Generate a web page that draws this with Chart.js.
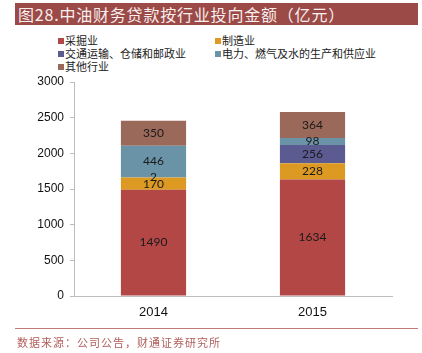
<!DOCTYPE html>
<html lang="zh">
<head>
  <meta charset="UTF-8">
  <title>中油财务贷款按行业投向金额</title>
  <script src="https://cdn.jsdelivr.net/npm/chart.js"></script>
  <style>
    body { margin: 0; background: #fff; width: 422px; height: 353px; position: relative; overflow: hidden; font-family: "Noto Sans CJK SC", sans-serif; }
    #banner { position: absolute; left: 15px; top: 3px; width: 403px; height: 22px; background: #9b4a47; color: #f7eeee; font-size: 16px; line-height: 22px; padding-left: 3px; box-sizing: border-box; letter-spacing: 0.8px; }
    #legend { position: absolute; left: 58px; top: 34px; width: 360px; font-size: 11px; color: #222; }
    #legend .item { position: absolute; white-space: nowrap; line-height: 13px; }
    #legend .sw { display: inline-block; width: 6px; height: 6px; margin-right: 1px; vertical-align: 1px; }
    #rule { position: absolute; left: 15px; top: 328px; width: 403px; height: 1px; background: #c07a78; }
    #source { position: absolute; left: 17px; top: 334px; font-size: 11px; color: #b2605c; letter-spacing: 1px; }
    canvas { position: absolute; left: 0; top: 0; }
  </style>
</head>
<body>
  <div id="banner">图28.中油财务贷款按行业投向金额（亿元）</div>
  <div id="legend"></div>
  <canvas id="chart" width="422" height="353"></canvas>
  <div id="rule"></div>
  <div id="source">数据来源：公司公告，财通证券研究所</div>

  <script>
    // data
    const years = ['2014', '2015'];
    const seriesNames = ['采掘业', '制造业', '交通运输、仓储和邮政业', '电力、燃气及水的生产和供应业', '其他行业'];
    const mining = [1490, 1634];
    const manufacturing = [170, 228];
    const transport = [2, 256];
    const utilities = [446, 98];
    const others = [350, 364];
    const yTicks = [0, 500, 1000, 1500, 2000, 2500, 3000];

    const colors = ['#b34745', '#dc9a22', '#5b5b92', '#6a93a7', '#9b695a'];
    const values = [mining, manufacturing, transport, utilities, others];

    // html legend, two columns like the original
    const legendBox = document.getElementById('legend');
    seriesNames.forEach((name, i) => {
      const el = document.createElement('div');
      el.className = 'item';
      el.style.left = (i % 2 === 0 ? 0 : 157) + 'px';
      el.style.top = (Math.floor(i / 2) * 13) + 'px';
      el.innerHTML = '<span class="sw" style="background:' + colors[i] + '"></span>' + name;
      legendBox.appendChild(el);
    });

    // writes each segment's value in the middle of it
    const valueLabels = {
      id: 'valueLabels',
      afterDatasetsDraw(chart) {
        const ctx = chart.ctx;
        ctx.save();
        ctx.font = '12px Lato, "Liberation Sans", sans-serif';
        ctx.fillStyle = '#1a1a1a';
        ctx.textAlign = 'center';
        ctx.textBaseline = 'middle';
        chart.data.datasets.forEach((ds, i) => {
          chart.getDatasetMeta(i).data.forEach((bar, j) => {
            const mid = (bar.y + bar.base) / 2;
            ctx.fillText(ds.data[j], bar.x, mid);
          });
        });
        ctx.restore();
      }
    };

    new Chart(document.getElementById('chart'), {
      type: 'bar',
      data: {
        labels: years,
        datasets: seriesNames.map((name, i) => ({
          label: name,
          data: values[i],
          backgroundColor: colors[i],
          borderWidth: 0,
          barPercentage: 0.41,
          categoryPercentage: 1
        }))
      },
      options: {
        responsive: false,
        animation: false,
        layout: { padding: { left: 14, right: 30, top: 82, bottom: 0 } },
        plugins: {
          legend: { display: false },
          tooltip: { enabled: false }
        },
        scales: {
          x: {
            stacked: true,
            grid: { display: false, drawTicks: false },
            border: { color: '#bdbdbd' },
            ticks: { color: '#111', font: { family: '"Liberation Sans", Arial, sans-serif', size: 13 }, padding: 9 },
            afterFit(scale) { scale.height = 57; }
          },
          y: {
            stacked: true,
            min: 0,
            max: 3000,
            afterBuildTicks(scale) { scale.ticks = yTicks.map(v => ({ value: v })); },
            grid: { drawOnChartArea: false, tickLength: 4, color: '#bdbdbd' },
            border: { color: '#bdbdbd' },
            ticks: {
              color: '#111',
              font: { family: '"Liberation Sans", Arial, sans-serif', size: 12 },
              padding: 6,
              callback: v => String(v)
            },
            afterFit(scale) { scale.width = 60; }
          }
        }
      },
      plugins: [valueLabels]
    });
  </script>
</body>
</html>
